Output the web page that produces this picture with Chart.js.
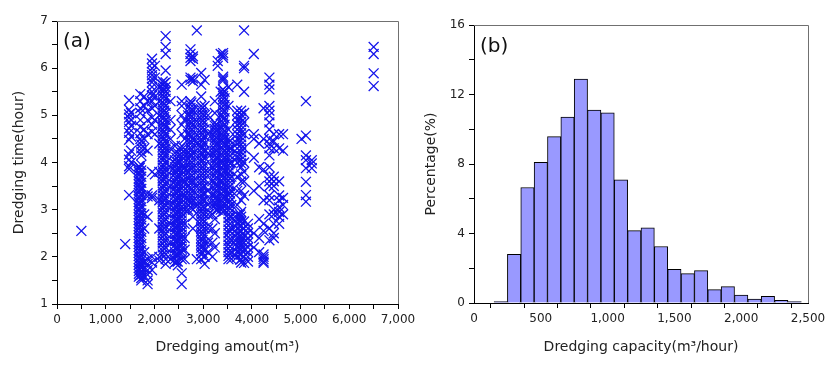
<!DOCTYPE html>
<html lang="en">
<head>
<meta charset="UTF-8">
<title>Dredging amount / capacity</title>
<script src="https://cdn.jsdelivr.net/npm/chart.js"></script>
<style>
body {
  margin: 0;
  background: #fff;
}
#wrap {
  display: flex;
  width: 840px;
  height: 365px;
}
canvas {
  display: block;
}
</style>
</head>
<body>
<div id="wrap">
  <canvas id="chartA" width="420" height="365"></canvas>
  <canvas id="chartB" width="420" height="365"></canvas>
</div>

<script>
// (a) dredging amount (m3) of each column of records, and the dredging times (hour) read in it
const amountCols = [
  500, 1400, 1480, 1520, 1680, 1730, 1710, 1790, 1860, 1950, 2010,
  2170, 2230, 2100, 2330, 2420, 2480, 2560, 2620,
  2740, 2790, 2690, 2870, 2960, 3030, 3100,
  3240, 3190, 3300, 3410, 3360, 3520, 3580,
  3700, 3780, 3840, 3920, 4040, 4150, 4240, 4360, 4450, 4560, 4640,
  5020, 5110, 5230, 6500,
  1700, 2200, 2450, 2530, 2760, 2990, 3270, 3440, 3550, 3760
];
const timeCols = [
  [2.55],
  [2.27],
  [5.32, 5.12, 5.02, 4.95, 4.86, 4.72, 4.63, 4.48, 4.17, 4.06, 3.92, 3.86, 3.31],
  [5.05, 4.9, 4.78, 4.55, 4.25, 4.0],
  [3.92, 3.86, 3.8, 3.73, 3.66, 3.6, 3.54, 3.47, 3.41, 3.35, 3.28, 3.22, 3.16, 3.1, 3.03, 2.97, 2.9, 2.84, 2.78, 2.71,
   2.65, 2.59, 2.52, 2.46, 2.4, 2.33, 2.27, 2.21, 2.14, 2.08, 2.02, 1.95, 1.89, 1.83, 1.76, 1.7, 1.64, 1.58],
  [4.45, 4.38, 4.3, 4.22, 4.15, 3.95, 3.83, 3.7, 3.57, 3.44, 3.31, 3.18, 3.05, 2.92, 2.79, 2.66, 2.53, 2.4, 2.27, 2.14,
   2.01, 1.93, 1.85, 1.78, 1.7, 1.62, 1.55, 1.5],
  [5.45, 5.3, 5.15, 5.05, 4.9, 4.75, 4.62, 4.5],
  [5.4, 5.2, 4.7, 4.5, 4.3, 2.9, 2.6, 2.1, 1.9, 1.75, 1.6],
  [5.3, 5.1, 4.9, 4.6, 4.25, 3.35, 3.28, 2.85, 1.95, 1.85, 1.72, 1.62, 1.5, 1.42],
  [6.2, 6.1, 6.0, 5.92, 5.85, 5.78, 5.7, 5.6, 5.5, 5.42, 5.3, 5.15, 4.95, 4.8, 4.65, 3.8, 3.3, 3.25, 2.0, 1.88, 1.72],
  [6.05, 5.8, 5.4, 5.2, 4.9, 4.6, 3.75],
  [5.72, 5.65, 5.58, 5.5, 5.43, 5.36, 5.28, 5.21, 5.14, 5.06, 4.99, 4.92, 4.84, 4.77, 4.7, 4.62, 4.55, 4.48, 4.4, 4.33,
   4.26, 4.18, 4.11, 4.04, 3.96, 3.89, 3.82, 3.74, 3.67, 3.6, 3.52, 3.45, 3.38, 3.3, 3.23, 3.16, 3.08, 3.01, 2.94, 2.86,
   2.79, 2.72, 2.64, 2.57, 2.5, 2.42, 2.35, 2.28, 2.2, 2.13, 2.05],
  [6.68, 6.45, 6.3, 5.95, 5.7, 5.6, 5.5, 5.35, 5.2, 5.05, 4.9, 4.75, 4.6, 4.45, 4.3, 4.15, 4.0, 3.85, 3.7, 3.55,
   3.4, 3.25, 3.1, 2.95, 2.8, 2.65, 2.5, 2.35, 2.2, 2.05, 1.95, 1.85],
  [5.6, 5.0, 4.4, 3.8, 3.2, 2.6, 2.0, 1.92],
  [5.3, 4.9, 4.7, 4.5, 4.3, 3.9, 3.5, 3.1, 2.7, 2.3, 1.95],
  [4.35, 4.2, 4.05, 3.98, 3.9, 3.83, 3.75, 3.68, 3.6, 3.53, 3.45, 3.38, 3.3, 3.23, 3.15, 3.08, 3.0, 2.93, 2.85, 2.78,
   2.7, 2.63, 2.55, 2.48, 2.4, 2.33, 2.25, 2.18, 2.1, 2.03, 1.95, 1.88],
  [4.2, 4.0, 3.85, 3.7, 3.55, 3.4, 3.25, 3.1, 2.95, 2.8, 2.65, 2.5, 2.35, 2.2, 2.05, 1.9, 1.82],
  [5.65, 5.3, 5.2, 5.0, 4.8, 4.6, 4.35, 4.28, 4.2, 4.12, 4.05, 3.97, 3.9, 3.82, 3.75, 3.67, 3.6, 3.52, 3.45, 3.37,
   3.3, 3.22, 3.15, 3.07, 3.0, 2.92, 2.85, 2.77, 2.7, 2.62, 2.55, 2.47, 2.4, 2.32, 2.25, 2.17, 2.1, 1.95, 1.65, 1.42],
  [4.9, 4.5, 4.2, 3.9, 3.6, 3.3, 3.0, 2.7, 2.4, 2.15, 1.95],
  [6.4, 6.3, 6.22, 6.15, 5.8, 5.75, 5.3, 5.23, 5.16, 5.09, 5.02, 4.95, 4.88, 4.81, 4.74, 4.67, 4.6, 4.53, 4.46, 4.39,
   4.32, 4.25, 4.18, 4.11, 4.04, 3.97, 3.9, 3.83, 3.76, 3.69, 3.62, 3.55, 3.48, 3.41, 3.34, 3.27, 3.2, 3.13, 3.06],
  [6.25, 6.2, 5.78, 5.72, 5.1, 4.8, 4.5, 4.2, 3.9, 3.6, 3.4, 3.2, 3.0, 2.85, 2.6],
  [5.0, 4.6, 4.2, 3.8, 3.5, 3.2, 3.0],
  [6.8, 4.4, 3.1, 1.95],
  [5.9, 5.65, 5.4, 5.2, 5.13, 5.06, 4.99, 4.92, 4.85, 4.78, 4.71, 4.64, 4.57, 4.5, 4.43, 4.36, 4.29, 4.22, 4.15, 4.08,
   4.01, 3.94, 3.87, 3.8, 3.73, 3.66, 3.59, 3.52, 3.45, 3.38, 3.31, 3.24, 3.17, 3.1, 3.03, 2.96, 2.89, 2.82, 2.75, 2.68,
   2.61, 2.54, 2.47, 2.4, 2.33, 2.26, 2.19, 2.12, 2.05, 1.95],
  [5.75, 5.2, 5.0, 4.85, 4.7, 4.55, 4.4, 4.25, 4.1, 3.95, 3.8, 3.65, 3.5, 3.35, 3.2, 3.05, 2.9, 2.75, 2.6, 2.45,
   2.3, 2.15, 2.0, 1.85],
  [5.0, 4.6, 4.2, 3.8, 3.4, 3.1, 2.9, 2.6, 2.3, 2.1],
  [5.3, 5.05, 4.85, 4.78, 4.71, 4.64, 4.57, 4.5, 4.43, 4.36, 4.29, 4.22, 4.15, 4.08, 4.01, 3.94, 3.87, 3.8, 3.73, 3.66,
   3.59, 3.52, 3.45, 3.38, 3.31, 3.24, 3.17, 3.1, 3.03, 2.8, 2.5, 2.2],
  [4.6, 4.2, 3.9, 3.6, 3.3, 3.1, 2.9, 2.6, 2.3, 2.0],
  [6.15, 6.05, 4.7, 4.4, 4.1, 3.8, 3.5, 3.2, 3.0],
  [6.32, 6.27, 6.22, 5.82, 5.78, 5.74, 5.55, 5.48, 5.41, 5.34, 5.27, 5.2, 5.13, 5.06, 4.99, 4.92, 4.85, 4.78, 4.71, 4.64,
   4.57, 4.5, 4.43, 4.36, 4.29, 4.22, 4.15, 4.08, 4.01, 3.94, 3.87, 3.8, 3.73, 3.66, 3.59, 3.52, 3.45, 3.38, 3.31, 3.24,
   3.17, 3.1, 3.03, 2.96],
  [6.3, 5.5, 5.0, 4.5, 4.0, 3.6, 3.2, 3.0],
  [5.6, 5.2, 4.7, 4.5, 4.42, 4.34, 4.26, 4.18, 4.1, 4.02, 3.94, 3.86, 3.78, 3.7, 3.62, 3.54, 3.46, 3.38, 3.3, 3.22,
   3.14, 3.06, 2.98, 2.9, 2.82, 2.74, 2.66, 2.58, 2.5, 2.42, 2.34, 2.26, 2.18, 2.1, 2.02, 1.95],
  [4.3, 4.0, 3.7, 3.4, 3.1, 2.85, 2.6, 2.35, 2.1, 1.95],
  [5.65, 5.1, 5.0, 4.9, 4.8, 4.7, 4.6, 4.5, 4.4, 4.3, 4.2, 4.1, 4.0, 3.7, 3.4, 3.1, 2.9, 2.8, 2.7, 2.6,
   2.5, 2.4, 2.3, 2.2, 2.1, 2.0],
  [5.1, 5.02, 4.94, 4.86, 4.78, 4.7, 4.62, 4.54, 4.46, 4.38, 4.3, 4.22, 4.14, 4.06, 3.98, 3.9, 3.75, 3.6, 3.4, 3.2,
   2.95, 2.85, 2.75, 2.65, 2.55, 2.45, 2.35, 2.25, 2.15, 2.05, 1.95, 1.88],
  [6.8, 6.05, 6.0, 5.5, 5.05, 4.85, 4.6, 4.3, 4.0, 3.8, 3.6, 3.3, 2.75, 2.6, 2.45, 2.3, 2.15, 2.0, 1.87],
  [2.7, 2.6, 2.5, 2.4, 2.3, 2.2, 2.1, 2.0, 1.9],
  [6.3, 4.6, 4.5, 4.1, 3.4, 2.5, 2.2],
  [4.4, 3.9, 3.5, 2.8, 2.4, 2.1],
  [5.15, 4.5, 3.85, 3.2, 2.7, 2.55, 2.05, 2.0, 1.95, 1.9, 1.87],
  [5.8, 5.65, 5.55, 5.2, 5.1, 5.0, 4.85, 4.7, 4.5, 4.4, 4.3, 4.15, 3.9, 3.7, 3.6, 3.5, 3.3, 3.2, 2.9, 2.6, 2.35],
  [4.6, 4.45, 4.3, 3.7, 3.6, 3.5, 3.0, 2.9, 2.7, 2.5, 2.4],
  [4.6, 4.3, 3.6, 3.3, 3.2, 3.05, 2.95, 2.85, 2.7],
  [4.6, 4.25, 3.25, 3.1, 2.9],
  [4.5],
  [5.3, 4.57, 4.15, 4.05, 3.88, 3.59, 3.31, 3.17],
  [4.05, 3.98, 3.88],
  [6.45, 6.3, 5.89, 5.62],
  [3.89, 3.76, 3.63, 3.5, 3.38, 3.25, 3.12, 2.99, 2.87, 2.74, 2.61, 2.49, 2.36, 2.23, 2.11, 1.98, 1.86, 1.73, 1.61],
  [5.68, 5.54, 5.4, 5.25, 5.1, 4.96, 4.81, 4.66, 4.52, 4.37, 4.22, 4.08, 3.93, 3.78, 3.64, 3.49, 3.34, 3.2, 3.05, 2.9,
   2.76, 2.61, 2.46, 2.32, 2.17],
  [4.1, 3.95, 3.8, 3.66, 3.51, 3.36, 3.22, 3.07, 2.92, 2.78, 2.63, 2.48, 2.34, 2.19, 2.04, 1.9],
  [4.3, 4.16, 4.01, 3.86, 3.71, 3.56, 3.41, 3.26, 3.11, 2.96, 2.81, 2.66, 2.51, 2.36, 2.21, 2.08],
  [5.27, 5.12, 4.98, 4.84, 4.7, 4.56, 4.42, 4.28, 4.14, 4.0, 3.86, 3.72, 3.58, 3.44, 3.3, 3.16, 3.03],
  [5.16, 5.02, 4.88, 4.74, 4.6, 4.46, 4.32, 4.18, 4.04, 3.9, 3.76, 3.62, 3.48, 3.34, 3.2, 3.06, 2.92, 2.78, 2.64, 2.5,
   2.36, 2.22, 2.08],
  [4.8, 4.66, 4.52, 4.38, 4.24, 4.1, 3.96, 3.82, 3.68, 3.54, 3.4, 3.26, 3.12, 3.0],
  [5.5, 5.36, 5.22, 5.08, 4.94, 4.8, 4.66, 4.52, 4.38, 4.24, 4.1, 3.96, 3.82, 3.68, 3.54, 3.4, 3.26, 3.12, 2.98],
  [4.46, 4.3, 4.14, 3.98, 3.82, 3.66, 3.5, 3.34, 3.18, 3.02, 2.86, 2.7, 2.54, 2.38, 2.22, 2.06],
  [2.9, 2.78, 2.66, 2.54, 2.42, 2.3, 2.18, 2.06, 1.94]
];

// (b) histogram of dredging capacity (m3/hour), bin centres and percentage
const binCenters = [200, 300, 400, 500, 600, 700, 800, 900, 1000, 1100, 1200, 1300,
  1400, 1500, 1600, 1700, 1800, 1900, 2000, 2100, 2200, 2300, 2400];
const percentages = [0.08, 2.8, 6.65, 8.1, 9.58, 10.7, 12.89, 11.1, 10.95, 7.09, 4.17, 4.32,
  3.25, 1.94, 1.69, 1.86, 0.77, 0.94, 0.46, 0.23, 0.38, 0.15, 0.08];

const FONT = "'DejaVu Sans', Verdana, sans-serif";

const scatterPts = [];
amountCols.forEach((x, i) => {
  timeCols[i].forEach(y => scatterPts.push({ x: x, y: y }));
});

const histPts = binCenters.map((c, i) => ({ x: c, y: percentages[i] }));

// frame on top / right plus the panel letter
function framePlugin(letter, lx, ly) {
  return {
    id: 'frame' + letter,
    afterDraw(chart) {
      const { ctx, chartArea: a } = chart;
      ctx.save();
      ctx.strokeStyle = '#707070';
      ctx.lineWidth = 1;
      ctx.beginPath();
      ctx.moveTo(a.left, a.top + 0.5);
      ctx.lineTo(a.right + 0.5, a.top + 0.5);
      ctx.lineTo(a.right + 0.5, a.bottom);
      ctx.stroke();
      ctx.fillStyle = '#111';
      ctx.font = '20px ' + FONT;
      ctx.textBaseline = 'middle';
      ctx.fillText(letter, lx, ly);
      ctx.restore();
    }
  };
}

function axisBase(extra) {
  return Object.assign({
    type: 'linear',
    grid: { drawOnChartArea: false, drawTicks: true, tickLength: 5, color: '#000', tickColor: '#000' },
    border: { display: true, color: '#000', width: 1 }
  }, extra);
}

Chart.defaults.font.family = FONT;
Chart.defaults.color = '#222';

new Chart(document.getElementById('chartA'), {
  type: 'scatter',
  data: {
    datasets: [{
      data: scatterPts,
      pointStyle: 'crossRot',
      pointRadius: 7,
      pointHoverRadius: 7,
      borderWidth: 1.3,
      borderColor: 'rgb(20,20,235)',
      backgroundColor: 'rgb(20,20,235)'
    }]
  },
  options: {
    responsive: false,
    animation: false,
    events: [],
    layout: { padding: { left: 0, right: 22, top: 21, bottom: 0 } },
    plugins: { legend: { display: false }, tooltip: { enabled: false } },
    scales: {
      x: axisBase({
        min: 0, max: 7000,
        afterFit: s => { s.height = 61; },
        ticks: {
          stepSize: 500, autoSkip: false, maxRotation: 0, padding: 4,
          font: { size: 12 },
          callback: v => v % 1000 === 0 ? v.toLocaleString('en-US') : ''
        },
        title: { display: true, text: 'Dredging amout(m³)', font: { size: 14 }, color: '#222', padding: { top: 0, bottom: 9 } }
      }),
      y: axisBase({
        min: 1, max: 7,
        afterFit: s => { s.width = 57; },
        ticks: {
          stepSize: 0.5, autoSkip: false, padding: 4,
          font: { size: 12 },
          callback: v => v % 1 === 0 ? String(v) : ''
        },
        title: { display: true, text: 'Dredging time(hour)', font: { size: 14 }, color: '#222', padding: { top: 11, bottom: 0 } }
      })
    }
  },
  plugins: [framePlugin('(a)', 63, 42)]
});

new Chart(document.getElementById('chartB'), {
  type: 'bar',
  data: {
    datasets: [{
      data: histPts,
      backgroundColor: '#9999ff',
      borderColor: '#000',
      borderWidth: 1,
      barPercentage: 1,
      categoryPercentage: 1
    }]
  },
  options: {
    responsive: false,
    animation: false,
    events: [],
    layout: { padding: { left: 0, right: 32, top: 25, bottom: 0 } },
    plugins: { legend: { display: false }, tooltip: { enabled: false } },
    scales: {
      x: axisBase({
        min: 0, max: 2500,
        offset: false,
        afterFit: s => { s.height = 62; },
        ticks: {
          stepSize: 250, autoSkip: false, maxRotation: 0, padding: 4,
          font: { size: 12 },
          callback: v => v % 500 === 0 ? v.toLocaleString('en-US') : ''
        },
        title: { display: true, text: 'Dredging capacity(m³/hour)', font: { size: 14 }, color: '#222', padding: { top: 0, bottom: 9 } }
      }),
      y: axisBase({
        min: 0, max: 16,
        afterFit: s => { s.width = 54; },
        ticks: {
          stepSize: 2, autoSkip: false, padding: 4,
          font: { size: 12 },
          callback: v => v % 4 === 0 ? String(v) : ''
        },
        title: { display: true, text: 'Percentage(%)', font: { size: 14 }, color: '#222', padding: { top: 3, bottom: 0 } }
      })
    }
  },
  plugins: [framePlugin('(b)', 60, 47)]
});
</script>
</body>
</html>
